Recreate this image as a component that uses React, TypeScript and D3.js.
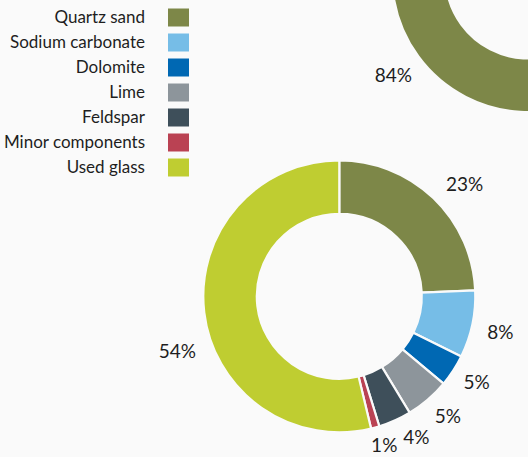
import React from "react";
import * as d3 from "d3";

const categories = [
  "Quartz sand",
  "Sodium carbonate",
  "Dolomite",
  "Lime",
  "Feldspar",
  "Minor components",
  "Used glass",
];
const colors = ["#7d8748", "#76bde7", "#0068b3", "#8d959b", "#3e4f5a", "#ba4253", "#bfcd31"];
const mainValues = [24.3, 8.0, 3.8, 5.25, 3.9, 1.0, 53.75];
const mainLabels = ["23%", "8%", "5%", "5%", "4%", "1%", "54%"];
const topValues = [84, 7, 3, 3, 2, 1, 0];
const topLabels = ["84%", "", "", "", "", "", ""];

const W = 528;
const H = 457;
const BG = "#fafafa";
const FONT = "Lato, 'Open Sans', sans-serif";

const R_OUT = 136;
const R_IN = 82.5;
const mainCenter = { x: 339.3, y: 296.3 };
const topCenter = { x: 528, y: -24 };
const labelNudgeDeg = [4.5, 0.5, -1, -1.5, -4.5, -1.5, -12];
const labelRadius = [168, 165, 162, 162, 161, 155.5, 171];

const deg = Math.PI / 180;

function Donut({ values, labels, cx, cy, start, nudges, radii }: any) {
  const pie = d3.pie<number>().sort(null).value((d) => d).startAngle(start).endAngle(start + 2 * Math.PI);
  const arcs = pie(values);
  const arc = d3.arc<d3.PieArcDatum<number>>().innerRadius(R_IN).outerRadius(R_OUT);
  return (
    <g transform={`translate(${cx},${cy})`}>
      {arcs.map((a, i) =>
        a.value > 0 ? (
          <path key={i} d={arc(a) || ""} fill={colors[i]} stroke={BG} strokeWidth={2.2} />
        ) : null
      )}
      {arcs.map((a, i) => {
        if (!labels[i]) return null;
        const ang = (a.startAngle + a.endAngle) / 2 + (nudges ? nudges[i] : 0) * deg;
        const r = radii ? radii[i] : 167;
        const x = Math.sin(ang) * r;
        const y = -Math.cos(ang) * r;
        return (
          <text
            key={"t" + i}
            x={x}
            y={y}
            dy="0.36em"
            textAnchor="middle"
            fontFamily={FONT}
            fontSize={19}
            fill="#1e1e1e"
          >
            {labels[i]}
          </text>
        );
      })}
    </g>
  );
}

export default function App() {
  const legendY = d3.scaleBand<string>().domain(categories).range([5, 180]).paddingInner(0);
  return (
    <svg
      width={W}
      height={H}
      style={{ position: "absolute", left: 0, top: 0, background: BG }}
    >
      <rect x={0} y={0} width={W} height={H} fill={BG} />
      <Donut values={topValues} labels={topLabels} cx={topCenter.x} cy={topCenter.y} start={82.5 * deg} nudges={null} radii={null} />
      <Donut values={mainValues} labels={mainLabels} cx={mainCenter.x} cy={mainCenter.y} start={0} nudges={labelNudgeDeg} radii={labelRadius} />
      {categories.map((c, i) => {
        const y = (legendY(c) || 0) + legendY.bandwidth() / 2;
        return (
          <g key={c}>
            <text
              x={145}
              y={y}
              dy="0.35em"
              textAnchor="end"
              fontFamily={FONT}
              fontSize={17}
              fill="#1e1e1e"
            >
              {c}
            </text>
            <rect x={168} y={y - 9} width={21} height={18} fill={colors[i]} />
          </g>
        );
      })}
    </svg>
  );
}
